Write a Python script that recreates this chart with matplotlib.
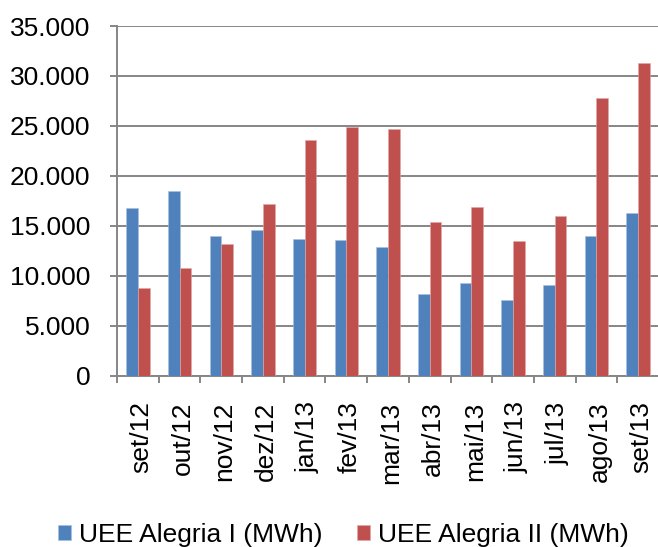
import matplotlib
matplotlib.use("Agg")
import matplotlib.pyplot as plt
import numpy as np

plt.rcParams['font.family'] = ['Liberation Sans', 'DejaVu Sans']

categories = ["set/12", "out/12", "nov/12", "dez/12", "jan/13", "fev/13", "mar/13",
              "abr/13", "mai/13", "jun/13", "jul/13", "ago/13", "set/13"]
alegria_1 = [16800, 18500, 14000, 14600, 13700, 13600, 12900,
             8200, 9300, 7600, 9100, 14000, 16300]
alegria_2 = [8800, 10800, 13200, 17200, 23600, 24900, 24700,
             15400, 16900, 13500, 16000, 27800, 31300]
series_names = ["UEE Alegria I (MWh)", "UEE Alegria II (MWh)"]
y_ticks = [0, 5000, 10000, 15000, 20000, 25000, 30000, 35000]

blue = "#4F81BD"
red = "#C0504D"
grey = "#868686"
fs = 19

fig = plt.figure(figsize=(6.58, 5.47), dpi=100)
ax = fig.add_axes([117/658, 1 - 375.7/547, (659-117)/658, (375.7-26)/547])

x = np.arange(len(categories))
w = 0.28
ax.bar(x - w/2, alegria_1, width=w, color=blue, label=series_names[0], zorder=3,
       edgecolor="#A7BFDE", linewidth=0.4)
ax.bar(x + w/2, alegria_2, width=w, color=red, label=series_names[1], zorder=3,
       edgecolor="#DFA8A6", linewidth=0.4)

ax.set_xlim(-0.5, len(categories) - 0.5)
ax.set_ylim(0, 35000)
ax.set_yticks(y_ticks)
ax.set_yticklabels([f"{v:,}".replace(",", ".") for v in y_ticks], fontsize=fs)
ax.yaxis.grid(True, color=grey, linewidth=1.4, zorder=0)
ax.set_axisbelow(True)

ax.set_xticks(x + 0.08)
ax.set_xticklabels(categories, rotation=90, fontsize=fs)
ax.set_xticks(np.arange(-0.5, len(categories) + 0.5, 1), minor=True)
ax.tick_params(axis='x', which='major', length=0, pad=18.5)
ax.tick_params(axis='x', which='minor', length=5, width=1.4, color=grey, direction='out')
ax.tick_params(axis='y', length=5, width=1.4, color=grey, direction='out', pad=14)

for s in ['top', 'right']:
    ax.spines[s].set_visible(False)
for s in ['left', 'bottom']:
    ax.spines[s].set_color(grey)
    ax.spines[s].set_linewidth(1.4)

leg = fig.legend(loc='center', bbox_to_anchor=(343/658, 1 - 535/547), ncol=2,
                 frameon=False, fontsize=fs, handlelength=0.5, handleheight=0.5,
                 handletextpad=0.3, columnspacing=1.3, borderpad=0, borderaxespad=0)

fig.savefig("out.png", dpi=100)
